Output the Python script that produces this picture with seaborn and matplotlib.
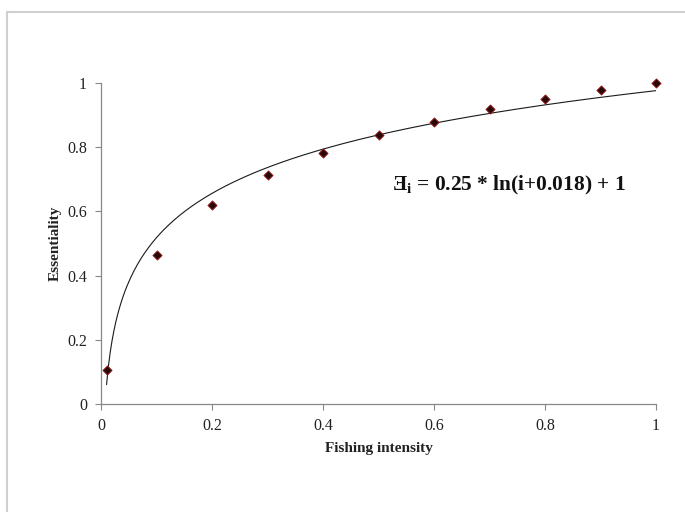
import numpy as np
import pandas as pd
import matplotlib
matplotlib.use("Agg")
import matplotlib.pyplot as plt
import seaborn as sns
from matplotlib.patches import Rectangle

# Data
fishing_intensity = [0.01, 0.1, 0.2, 0.3, 0.4, 0.5, 0.6, 0.7, 0.8, 0.9, 1.0]
essentiality = [0.106, 0.464, 0.620, 0.713, 0.782, 0.838, 0.878, 0.918, 0.950, 0.978, 1.0]
x_ticks = [0, 0.2, 0.4, 0.6, 0.8, 1]
x_tick_labels = ["0", "0.2", "0.4", "0.6", "0.8", "1"]
y_ticks = [0, 0.2, 0.4, 0.6, 0.8, 1]
y_tick_labels = ["0", "0.2", "0.4", "0.6", "0.8", "1"]

sns.set_theme(style="white")
plt.rcParams["font.family"] = ["Liberation Serif", "DejaVu Serif"]
plt.rcParams["mathtext.fontset"] = "custom"
plt.rcParams["mathtext.rm"] = "Liberation Serif"
plt.rcParams["mathtext.bf"] = "Liberation Serif:bold"

df = pd.DataFrame({"x": fishing_intensity, "y": essentiality})

# Logarithmic trendline (least squares on ln x), as drawn in the chart
a, b = np.polyfit(np.log(df["x"]), df["y"], 1)
xs = np.linspace(min(fishing_intensity), max(fishing_intensity), 300)
trend = pd.DataFrame({"x": xs, "y": a * np.log(xs) + b})

fig = plt.figure(figsize=(6.85, 5.12), dpi=100)
ax = fig.add_axes([101 / 685, 1 - 404 / 512, (656 - 101) / 685, (404 - 83) / 512])

sns.lineplot(data=trend, x="x", y="y", ax=ax, color="#1a1a1a", lw=0.8)
sns.scatterplot(data=df, x="x", y="y", ax=ax, marker="D", s=22,
                color="#2a0808", edgecolor="#9b1c1c", linewidth=0.6, zorder=3,
                clip_on=False)

ax.set_xlim(0, 1)
ax.set_ylim(0, 1)
ax.set_xticks(x_ticks)
ax.set_xticklabels(x_tick_labels)
ax.set_yticks(y_ticks)
ax.set_yticklabels(y_tick_labels)
ax.tick_params(axis="both", direction="out", length=4, width=0.8, color="#888888",
               labelsize=11.5, labelcolor="#222222", pad=6)
ax.tick_params(axis="x", bottom=True)
ax.tick_params(axis="y", left=True)
for side in ["top", "right"]:
    ax.spines[side].set_visible(False)
for side in ["left", "bottom"]:
    ax.spines[side].set_color("#888888")
    ax.spines[side].set_linewidth(0.9)
ax.grid(False)

ax.set_xlabel("Fishing intensity", fontsize=11, fontweight="bold", color="#222222", labelpad=5.5)
ax.set_ylabel("Essentiality", fontsize=11, fontweight="bold", color="#222222", labelpad=4)

ax.text(0.524, 0.682, "Ǝ$_\\mathbf{i}$ = 0.25 * ln(i+0.018) + 1",
        fontsize=15.4, fontweight="bold", color="#111111", va="center", ha="left",
        transform=ax.transData)

fig.patches.append(Rectangle((7 / 685, -0.05), 1.0, 1 - 12 / 512 + 0.05,
                             transform=fig.transFigure, fill=False,
                             edgecolor="#d0d0d0", linewidth=1.5))

fig.savefig("out.png", dpi=100)
